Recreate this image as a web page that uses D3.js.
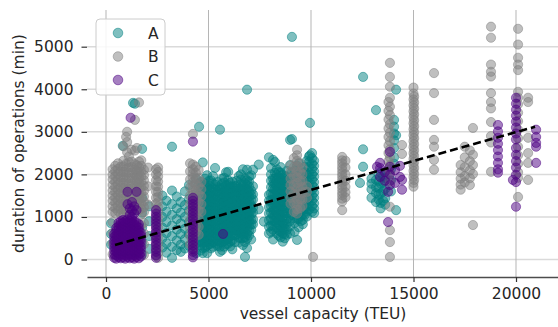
<!DOCTYPE html>
<html><head><meta charset="utf-8">
<script src="https://cdn.jsdelivr.net/npm/d3@7"></script>
<style>
body{margin:0;background:#fff;}
svg{display:block;font-family:"DejaVu Sans",sans-serif;}
</style></head><body>
<svg id="chart" width="558" height="327"></svg>
<script>
// Each entry: [vessel capacity (TEU), [durations of operations (min) ...]]
const seriesA = [
  [250, [350, 600, 850]],
  [820, [2670, 250, 600]],
  [1320, [3680, 1150]],
  [1410, [3660]],
  [1760, [2600, 1450, 1100, 750, 400, 120]],
  [2100, [1250, 900, 550, 250]],
  [2750, [1500, 1250, 1000, 750, 500, 280]],
  [2950, [1380, 1120, 880, 620, 380, 160]],
  [3220, [2650, 1620, 1300, 1050, 800, 550, 300, 40]],
  [3450, [1480, 1200, 950, 700, 450, 220]],
  [3650, [1350, 1100, 850, 600, 350, 180]],
  [3850, [1600, 1280, 1000, 720, 480, 260]],
  [4050, [1750, 1420, 1150, 880, 600, 320]],
  [4400, [1900, 1550, 1250, 950, 650, 380, 150]],
  [4540, [3120, 1780, 1380, 1020, 720, 420]],
  [4620, [1820, 1700, 1590, 1470, 1360, 1250, 1130, 1020, 900, 790, 670, 560, 440, 330, 210]],
  [4720, [2280, 1750, 1640, 1520, 1410, 1300, 1180, 1070, 960, 840, 730, 620, 500, 390, 270, 150]],
  [4830, [1900, 1780, 1660, 1550, 1430, 1320, 1200, 1090, 970, 860, 740, 630, 510, 400, 280]],
  [4930, [1980, 1690, 1580, 1460, 1350, 1230, 1120, 1000, 890, 780, 660, 550, 430, 320, 150]],
  [5030, [1850, 1740, 1620, 1510, 1390, 1280, 1160, 1050, 930, 820, 700, 590, 470, 360]],
  [5120, [1860, 1630, 1520, 1400, 1290, 1170, 1060, 940, 830, 710, 600, 480, 370, 260]],
  [5220, [1960, 1790, 1670, 1560, 1440, 1330, 1210, 1100, 980, 870, 750, 640, 520, 410, 300]],
  [5320, [2150, 1760, 1650, 1530, 1420, 1300, 1190, 1070, 960, 840, 730, 610, 500, 380]],
  [5440, [1820, 1700, 1590, 1470, 1360, 1240, 1130, 1010, 900, 780, 670, 550, 440, 320]],
  [5560, [3050, 1680, 1560, 1450, 1330, 1220, 1100, 990, 870, 760, 640, 530, 410, 300, 180]],
  [5660, [1900, 1780, 1670, 1550, 1440, 1320, 1210, 1090, 980, 860, 750, 630, 520, 400, 220]],
  [5760, [1920, 1810, 1690, 1580, 1460, 1350, 1230, 1120, 1000, 890, 770, 660, 540, 430, 300]],
  [5860, [2050, 1740, 1620, 1510, 1390, 1280, 1160, 1050, 930, 820, 700, 590, 470, 360]],
  [5960, [2060, 1860, 1750, 1630, 1520, 1400, 1290, 1170, 1060, 940, 830, 710, 600, 480, 370]],
  [6060, [1800, 1690, 1570, 1460, 1340, 1230, 1110, 1000, 880, 770, 650, 540, 420, 310]],
  [6160, [1830, 1720, 1600, 1490, 1370, 1260, 1140, 1030, 910, 800, 680, 570, 450, 240]],
  [6290, [1720, 1610, 1490, 1380, 1260, 1150, 1030, 920, 800, 690, 570, 410]],
  [6380, [1850, 1740, 1620, 1510, 1390, 1280, 1160, 1050, 930, 820, 700, 590]],
  [6480, [1960, 1660, 1550, 1430, 1320, 1200, 1090, 970, 860, 740, 630, 510, 400]],
  [6580, [2000, 1880, 1770, 1650, 1540, 1420, 1310, 1190, 1080, 960, 850, 730, 620, 500]],
  [6680, [2120, 1760, 1650, 1530, 1420, 1300, 1190, 1070, 960, 840, 730, 610, 500, 340]],
  [6780, [1900, 1790, 1670, 1560, 1440, 1330, 1210, 1100, 980, 870, 750, 640, 520, 410, 60]],
  [6880, [3990, 2110, 1860, 1750, 1640, 1520, 1410, 1290, 1180, 1060, 950, 830, 720, 600, 490, 270]],
  [6980, [1950, 1830, 1720, 1600, 1490, 1370, 1260, 1140, 1030, 910, 800, 680, 570]],
  [7080, [1980, 1620, 1510, 1390, 1280, 1160, 1050, 930, 820, 700, 470]],
  [7170, [2110, 1720, 1530, 1410, 1220, 1110, 940, 830]],
  [7450, [2230, 1180]],
  [7700, [890]],
  [7950, [2400, 1520, 1380, 1230, 1080, 920, 770, 610]],
  [8050, [2150, 2000, 1850, 1700, 1550, 1400, 1250, 1100, 950, 800, 650]],
  [8150, [2340, 1900, 1780, 1660, 1530, 1410, 1290, 1160, 1040, 910, 800, 700, 470]],
  [8240, [2290, 2040, 1900, 1780, 1650, 1530, 1400, 1290, 1160, 1040, 910]],
  [8330, [2120, 1990, 1870, 1740, 1620, 1490, 1370, 1240, 1120, 990, 870, 740, 610]],
  [8430, [2060, 1930, 1810, 1680, 1560, 1430, 1310, 1180, 1060, 930, 810, 680, 560]],
  [8520, [2170, 2040, 1900, 1780, 1650, 1530, 1400, 1280, 1150, 1030, 900, 780, 650, 520]],
  [8620, [1990, 1860, 1740, 1610, 1490, 1360, 1240, 1110, 990, 860, 740, 610, 420]],
  [8720, [1960, 1840, 1710, 1590, 1460, 1340, 1210, 1090, 960, 840, 720, 600, 500]],
  [8820, [2080, 1950, 1830, 1700, 1580, 1450, 1330, 1200, 1080, 950, 830, 700, 580]],
  [8980, [2810, 2220, 1900, 1780, 1650, 1530, 1400, 1280, 1150, 1030, 900, 780, 610]],
  [9070, [5230, 2830, 2050, 1920, 1300, 1050]],
  [9200, [2090, 1970, 1850, 1720, 1600, 1470, 1350, 1220, 1100, 970, 860, 650]],
  [9320, [2200, 1700, 1450, 1200, 950, 460]],
  [9400, [2260, 1950, 1830, 1700, 1580, 1450, 1330, 1200, 1080, 960, 760]],
  [9500, [2140, 2020, 1890, 1770, 1640, 1520, 1390, 1270, 1140, 1020, 900]],
  [9600, [2040, 1920, 1790, 1670, 1540, 1420, 1290, 1170, 1050, 930, 830]],
  [9700, [2180, 2050, 1930, 1800, 1680, 1550, 1430, 1300, 1180, 1050]],
  [9800, [2320, 2010, 1880, 1760, 1630, 1500, 1380, 1250, 1130, 1010]],
  [9900, [2420, 2290, 2170, 2040, 1920, 1790, 1670, 1540, 1420, 1290, 1170]],
  [9950, [3210, 2450]],
  [10050, [2500, 2380, 2250, 2130, 2000, 1880, 1750, 1630, 1500, 1380, 1250, 1120]],
  [10150, [2320, 2200, 2070, 1950, 1820, 1700, 1570, 1450, 1320, 1200, 1090]],
  [12390, [1800]],
  [12540, [4290, 2590, 2180]],
  [12950, [1900, 1780, 1650, 1450]],
  [13170, [3510, 1870, 1700, 1560, 1350]],
  [13300, [1990, 1840, 1680, 1520, 1410]],
  [13400, [2050, 1780, 1550, 1330, 1200]],
  [13520, [1960, 1810, 1600, 1380]],
  [13620, [1920, 1660, 1440, 1290]],
  [13900, [2120, 1860, 1600]],
  [14050, [3280, 3120, 2960, 2800, 2620, 2400, 2250]],
  [14150, [3990, 2920, 1160]]
];

const seriesB = [
  [320, [2120, 1990, 1880, 1750, 1620, 1500, 1380, 1250, 1120, 880, 620, 380, 120]],
  [450, [2200, 2080, 1960, 1830, 1710, 1590, 1460, 1340, 1210, 1090]],
  [580, [2260, 2130, 2010, 1880, 1760, 1640, 1510, 1390, 1260, 1140]],
  [720, [2180, 2060, 1930, 1810, 1680, 1560, 1430, 1310, 1180, 1060]],
  [850, [2660, 2320, 2190, 2060, 1930, 1800, 1680, 1560, 1430, 1310, 1180, 1060]],
  [980, [2880, 2250, 2120, 1990, 1870, 1740, 1620, 1490, 1370, 1240, 1120]],
  [1030, [3000, 2760, 2520]],
  [1120, [2420, 2290, 2160, 2040, 1910, 1790, 1660, 1530, 1400, 1280, 1150]],
  [1250, [2580, 2300, 2170, 2040, 1920, 1790, 1670, 1540, 1410, 1290, 1160]],
  [1410, [3280, 2560, 2240, 2110, 1990, 1860, 1730, 1610, 1480, 1360, 1230]],
  [1510, [2620, 2210, 2080, 1960, 1830, 1710, 1580, 1460, 1330, 1210]],
  [1610, [3690, 2300, 2170, 2050, 1920, 1800, 1670, 1550, 1420, 1300, 1170]],
  [1720, [2330, 2200, 2070, 1950, 1820, 1700, 1570, 1450, 1320, 1190, 1060, 810, 560]],
  [1850, [2110, 1980, 1860, 1730, 1610, 1480, 1360, 1230, 1110, 860, 610, 360, 110]],
  [2050, [2160, 1720, 1290]],
  [2440, [2120, 2000, 1860, 1720, 1590, 1450, 1310, 1180, 1040, 900, 770, 630, 490, 360, 220, 90]],
  [2540, [2160, 2060, 1950, 1830, 1710, 1590, 1470, 1350, 1230, 1110, 990, 870, 750, 630, 510, 390, 270, 150, 40]],
  [4100, [2260, 2070, 1880, 1690, 1500, 1310, 1120, 930, 740, 550, 360]],
  [4240, [2950, 2230, 2120, 2020, 1920, 1820, 1720, 1620, 1520, 1420, 1320, 1220, 1120, 1020, 920, 820, 720, 620, 520, 420, 320, 220]],
  [4380, [2180, 2040, 1900, 1760, 1620, 1480, 1340, 1200, 1060, 920, 780, 640]],
  [4520, [2100, 1910, 1720, 1530, 1340, 1150, 960, 770, 580]],
  [4650, [1820, 1650, 1480, 1300, 1120]],
  [9000, [2210, 2060, 1900, 1750, 1600, 1450, 1310]],
  [9160, [2380, 2170, 1960, 1750, 1540, 1330, 1120]],
  [9320, [2580, 2450, 2320, 2190, 2060, 1930, 1800, 1680, 1550, 1420, 1300, 1180, 1080]],
  [9480, [2260, 2050, 1840, 1630, 1420, 1210]],
  [9580, [2160, 2000, 1850, 1700, 1560, 1410, 1260]],
  [9800, [1720, 1590, 1450]],
  [10100, [60]],
  [11520, [2410, 2330, 2260, 2180, 2110, 2030, 1960, 1880, 1810, 1730, 1660, 1580, 1510, 1430, 1360, 1160]],
  [11680, [2320, 2160, 2000, 1850, 1710, 1580, 1460]],
  [13850, [4620, 4290, 4060, 3800, 3590, 3390, 3180, 2980, 2780, 2590, 2400, 2220, 2030, 1840, 1240, 690, 410, 60]],
  [13780, [3700, 3490, 3290, 3080, 2880, 2680, 2500, 2310, 2120]],
  [14440, [2690, 2480]],
  [15000, [4040, 3900, 3760, 3620, 3480, 3340, 3200, 3060, 2920, 2780, 2640, 2500, 2360, 2220, 2080, 1940, 1800, 1710]],
  [15030, [3830, 3690, 3550, 3410, 3270, 3130, 2990, 2850, 2710, 2570, 2430, 2290, 2150, 2010, 1870]],
  [16000, [4380, 3910, 3280, 2810, 2650, 2340, 2110]],
  [17300, [2220, 2050, 1900, 1760, 1640]],
  [17500, [2650, 2400, 2170, 1960, 1810]],
  [17750, [2560, 2310, 2090, 1910, 1750]],
  [17900, [3090, 2460, 2220, 2010, 810]],
  [18780, [5470, 5210, 4580, 4410, 4300, 3910, 3700, 3550, 3230, 2900, 2750, 2060]],
  [20100, [5420, 5050, 4740, 4580, 4450, 3940, 3800, 3650, 3450, 3250, 3050, 2850, 2650, 2450, 2250, 2050, 1920, 1470]],
  [20590, [3800, 3700, 2860, 2500, 2270, 1870]]
];

const seriesC = [
  [400, [40, 120, 210, 280, 370, 440, 530, 600]],
  [500, [20, 100, 190, 260, 350, 420, 510, 580, 670, 740]],
  [610, [60, 140, 230, 300, 390, 460, 550, 620, 710, 780, 860]],
  [720, [30, 110, 200, 270, 360, 430, 520, 590, 680, 750, 840, 900]],
  [830, [50, 130, 220, 290, 380, 450, 540, 610, 700, 770, 860, 930]],
  [940, [20, 100, 190, 260, 350, 420, 510, 580, 670, 740, 830, 900]],
  [1050, [60, 140, 230, 300, 390, 460, 550, 620, 710, 780, 870, 940, 1300, 1590]],
  [1160, [30, 110, 200, 270, 360, 430, 520, 590, 680, 750, 840, 910, 1050, 1200]],
  [1200, [3330]],
  [1270, [50, 130, 220, 290, 380, 450, 540, 610, 700, 770, 860, 930, 1000, 1150, 1350]],
  [1380, [20, 100, 190, 260, 350, 420, 510, 580, 670, 740, 830, 900, 1080, 1250]],
  [1490, [60, 140, 230, 300, 390, 460, 550, 620, 710, 780, 870, 1160, 1590]],
  [1600, [30, 110, 200, 270, 360, 430, 520, 590, 680, 750, 830]],
  [1700, [70, 150, 240, 310, 400, 470, 560, 630]],
  [2440, [1160, 1080, 1000, 930, 850, 780, 700, 630, 550, 480, 400, 330, 250, 180, 100, 40]],
  [4240, [2770, 1450, 1380, 1300, 1230, 1150, 1080, 1000, 930, 850, 780, 700, 630, 550, 480, 400, 330, 250, 180, 100, 50]],
  [5710, [600]],
  [13220, [2180]],
  [13370, [2270, 2150, 1940]],
  [13600, [2050, 1850]],
  [13760, [1590, 880]],
  [13850, [2530, 2180, 1990, 1750]],
  [14100, [2100, 1800]],
  [14340, [1940, 2200]],
  [14440, [1640, 1870]],
  [19120, [3160, 3010, 2860, 2720, 2570, 2420, 2270, 2120, 2040]],
  [19850, [1870]],
  [20000, [3800, 3660, 3520, 3380, 3240, 3100, 2960, 2820, 2620, 2460, 2310, 2160, 1990, 1820, 1240]],
  [20980, [3050, 2880, 2740, 2650, 2270]]
];

const seriesNames = ["A", "B", "C"];
const seriesColors = ["#008080", "#808080", "#4b0082"];

// Least-squares trend line endpoints (capacity, duration)
const fitX = [440, 20930];
const fitY = [341, 3118];

const xTicks = [0, 5000, 10000, 15000, 20000];
const yTicks = [0, 1000, 2000, 3000, 4000, 5000];

const svg = d3.select("#chart");
const L = 87, R = 560, T = 10, B = 277;
const x = d3.scaleLinear().domain([-927, 22146]).range([L, R]);
const y = d3.scaleLinear().domain([-411, 5862]).range([B, T]);

// grid
svg.append("g").selectAll("line").data(yTicks).join("line")
  .attr("x1", L).attr("x2", R)
  .attr("y1", d => y(d)).attr("y2", d => y(d))
  .attr("stroke", "#dadada").attr("stroke-width", 1.5);
svg.append("g").selectAll("line").data(xTicks).join("line")
  .attr("x1", d => x(d)).attr("x2", d => x(d))
  .attr("y1", T).attr("y2", B)
  .attr("stroke", "#b5b5b5").attr("stroke-width", 1);

// scatter points
const flat = s => s.flatMap(([cap, ys]) => ys.map(v => ({ cap, v })));
[seriesA, seriesB, seriesC].forEach((s, i) => {
  svg.append("g").selectAll("circle").data(flat(s)).join("circle")
    .attr("cx", d => x(d.cap)).attr("cy", d => y(d.v)).attr("r", 4.6)
    .attr("fill", seriesColors[i]).attr("fill-opacity", 0.5)
    .attr("stroke", seriesColors[i]).attr("stroke-opacity", 0.5)
    .attr("stroke-width", 1);
});

// trend line
svg.append("path")
  .datum(fitX.map((c, i) => [c, fitY[i]]))
  .attr("d", d3.line().x(d => x(d[0])).y(d => y(d[1])))
  .attr("fill", "none").attr("stroke", "#000")
  .attr("stroke-width", 2.6).attr("stroke-dasharray", "8,4");

// axes
const fmt = d3.format("d");
const yAxis = svg.append("g").attr("transform", `translate(${L},0)`)
  .call(d3.axisLeft(y).tickValues(yTicks).tickFormat(fmt).tickSize(5.5).tickPadding(8));
yAxis.select(".domain").remove();
const xAxis = svg.append("g").attr("transform", `translate(0,${B})`)
  .call(d3.axisBottom(x).tickValues(xTicks).tickFormat(fmt).tickSize(5).tickPadding(6).tickSizeOuter(0));
xAxis.select(".domain").attr("stroke", "#4d4d4d").attr("stroke-width", 1.6);
[xAxis, yAxis].forEach(a => {
  a.selectAll(".tick line").attr("stroke", "#333").attr("stroke-width", 1.2);
  a.selectAll(".tick text").attr("fill", "#262626")
    .style("font-size", "15.5px").style("font-family", "DejaVu Sans");
});

// axis titles
svg.append("text").attr("x", 323).attr("y", 319)
  .attr("text-anchor", "middle").attr("fill", "#262626")
  .style("font-size", "15.5px").text("vessel capacity (TEU)");
svg.append("text").attr("transform", "translate(24,143.5) rotate(-90)")
  .attr("text-anchor", "middle").attr("fill", "#262626")
  .style("font-size", "15.5px").text("duration of operations (min)");

// legend
const lg = svg.append("g");
lg.append("rect").attr("x", 96).attr("y", 19).attr("width", 69).attr("height", 76)
  .attr("rx", 4).attr("fill", "#fff").attr("fill-opacity", 0.85)
  .attr("stroke", "#cccccc").attr("stroke-width", 1);
const legY = [33, 56.5, 80];
seriesNames.forEach((n, i) => {
  lg.append("circle").attr("cx", 118).attr("cy", legY[i]).attr("r", 4.8)
    .attr("fill", seriesColors[i]).attr("fill-opacity", 0.5)
    .attr("stroke", seriesColors[i]).attr("stroke-opacity", 0.5).attr("stroke-width", 1);
  lg.append("text").attr("x", 148).attr("y", legY[i] + 5.6)
    .attr("fill", "#262626").style("font-size", "15.5px").text(n);
});
</script>
</body></html>
